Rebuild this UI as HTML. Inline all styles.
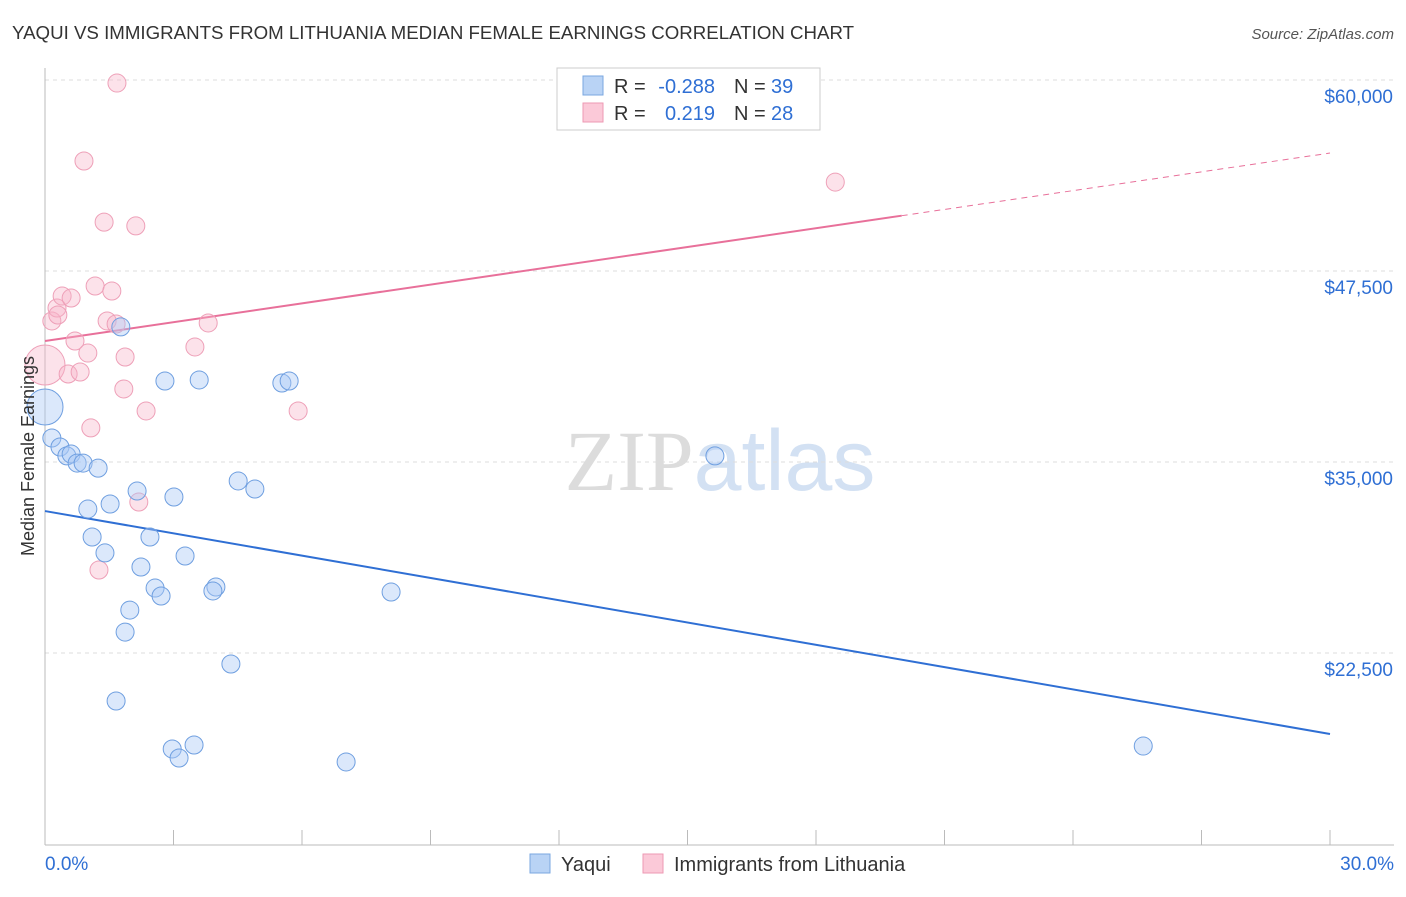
<!DOCTYPE html>
<html><head><meta charset="utf-8"><style>
body{margin:0;background:#fff;font-family:"Liberation Sans",sans-serif}
svg text{font-family:"Liberation Sans",sans-serif}
</style></head><body>
<svg id="chart" width="1406" height="892" xmlns="http://www.w3.org/2000/svg">
<text x="12" y="39" font-size="18.7" fill="#333">YAQUI VS IMMIGRANTS FROM LITHUANIA MEDIAN FEMALE EARNINGS CORRELATION CHART</text>
<text x="1394" y="39" font-size="15" fill="#555" text-anchor="end" font-style="italic">Source: ZipAtlas.com</text>
<text x="720" y="490" font-size="86" text-anchor="middle"><tspan fill="#dcdcdc" font-family="Liberation Serif">ZIP</tspan><tspan fill="#d3e1f3">atlas</tspan></text>
<g id="grid"></g><g id="axes"></g><g id="lines"></g><g id="pts"></g>
<text transform="translate(34,456) rotate(-90)" font-size="18" fill="#333" text-anchor="middle">Median Female Earnings</text>
<g>
<rect x="557" y="68" width="263" height="62" fill="#fff" stroke="#ccc"/>
<rect x="583" y="76" width="20" height="19" fill="#b9d3f5" stroke="#7aa7e0"/>
<rect x="583" y="103" width="20" height="19" fill="#fbc9d8" stroke="#ee99b3"/>
<text x="614" y="93" font-size="20" fill="#333">R =</text>
<text x="715" y="93" font-size="20" fill="#2f6fd4" text-anchor="end">-0.288</text>
<text x="734" y="93" font-size="20" fill="#333">N =</text>
<text x="771" y="93" font-size="20" fill="#2f6fd4">39</text>
<text x="614" y="120" font-size="20" fill="#333">R =</text>
<text x="715" y="120" font-size="20" fill="#2f6fd4" text-anchor="end">0.219</text>
<text x="734" y="120" font-size="20" fill="#333">N =</text>
<text x="771" y="120" font-size="20" fill="#2f6fd4">28</text>
</g>
<g>
<rect x="530" y="854" width="20" height="19" fill="#b9d3f5" stroke="#7aa7e0"/>
<text x="561" y="871" font-size="20" fill="#333">Yaqui</text>
<rect x="643" y="854" width="20" height="19" fill="#fbc9d8" stroke="#ee99b3"/>
<text x="674" y="871" font-size="20" fill="#333">Immigrants from Lithuania</text>
</g>
</svg>
<script>
const yTicks=[60000,47500,35000,22500];
const yTickLabels=["$60,000","$47,500","$35,000","$22,500"];
const xTickLabels=["0.0%","30.0%"];
const yaquiX=[0,0.16,0.35,0.51,0.61,0.75,0.89,1.24,1.0,1.52,2.15,1.77,2.8,3.6,5.53,5.7,4.51,4.9,3.01,1.1,2.45,1.4,3.27,2.24,2.57,2.71,3.99,3.92,8.08,1.98,1.87,4.34,1.66,2.97,3.48,3.13,7.03,15.64,25.64];
const yaquiY=[38600,36570,35980,35400,35520,34930,34930,34600,31920,32250,33100,43840,40300,40370,40170,40300,33760,33230,32710,30090,30090,29050,28850,28130,26750,26230,26820,26560,26490,25310,23870,21780,19360,16220,16480,15630,15370,35400,16410];
const yaquiR=[18,9,9,9,9,9,9,9,9,9,9,9,9,9,9,9,9,9,9,9,9,9,9,9,9,9,9,9,9,9,9,9,9,9,9,9,9,9,9];
const lithX=[1.68,0.91,1.38,2.12,0,0.16,0.28,0.4,0.61,0.3,1.17,1.56,1.45,1.66,3.81,0.7,1.0,3.5,1.87,0.54,0.82,1.84,2.36,5.91,1.07,2.19,1.26,18.45];
const lithY=[59800,54700,50700,50450,41350,44230,45080,45860,45730,44620,46520,46190,44230,44030,44100,42920,42130,42530,41870,40760,40890,39780,38340,38340,37230,32380,27930,53320];
const lithR=[9,9,9,9,20,9,9,9,9,9,9,9,9,9,9,9,9,9,9,9,9,9,9,9,9,9,9,9];
const yaquiTrend=[31790,17200];
const lithTrend=[42920,55220];
const lithSolidEnd=20;
const NS="http://www.w3.org/2000/svg";
const X=v=>45+v*(1330-45)/30;
const Y=v=>80+(60000-v)*15.28/1000;
function mk(tag,a,p){const e=document.createElementNS(NS,tag);for(const k in a)e.setAttribute(k,a[k]);document.getElementById(p).appendChild(e);return e;}
yTicks.forEach((t,i)=>{
 const g=mk('line',{x1:45,x2:1394,y1:Y(t),y2:Y(t),stroke:'#ddd','stroke-dasharray':'4,4'},'grid');
 
 
 const l=mk('text',{x:1393,y:Y(t)+23,'font-size':19,fill:'#2f6fd4','text-anchor':'end'},'axes');
 l.textContent=yTickLabels[i];
 
 
});
const xa=mk('line',{x1:45,x2:1394,y1:845,y2:845,stroke:'#bbb'},'axes');


const ya=mk('line',{x1:45,x2:45,y1:68,y2:845,stroke:'#bbb'},'axes');


for(let i=0;i<=10;i++){const t=mk('line',{x1:X(i*3),x2:X(i*3),y1:830,y2:845,stroke:'#bbb'},'axes');
 
 }
[[xTickLabels[0],45,'start'],[xTickLabels[1],1394,'end']].forEach(d=>{
 const l=mk('text',{x:d[1],y:870,'font-size':19,fill:'#2f6fd4','text-anchor':d[2]},'axes');l.textContent=d[0];
 
 });
const bl=mk('line',{x1:X(0),y1:Y(yaquiTrend[0]),x2:X(30),y2:Y(yaquiTrend[1]),stroke:'#2f6fd4','stroke-width':2},'lines');


const pm=lithTrend[0]+(lithTrend[1]-lithTrend[0])*lithSolidEnd/30;
const pl=mk('line',{x1:X(0),y1:Y(lithTrend[0]),x2:X(lithSolidEnd),y2:Y(pm),stroke:'#e8709a','stroke-width':2},'lines');


const pd=mk('line',{x1:X(lithSolidEnd),y1:Y(pm),x2:X(30),y2:Y(lithTrend[1]),stroke:'#e8709a','stroke-width':1,'stroke-dasharray':'6,5'},'lines');


lithX.forEach((v,i)=>{const c=mk('circle',{cx:X(v),cy:Y(lithY[i]),r:lithR[i],fill:'rgba(248,180,200,0.38)',stroke:'#eea0b8','stroke-width':1},'pts');
 
 });
yaquiX.forEach((v,i)=>{const c=mk('circle',{cx:X(v),cy:Y(yaquiY[i]),r:yaquiR[i],fill:'rgba(170,200,245,0.42)',stroke:'#6f9fe0','stroke-width':1},'pts');
 
 });
</script>
</body></html>
